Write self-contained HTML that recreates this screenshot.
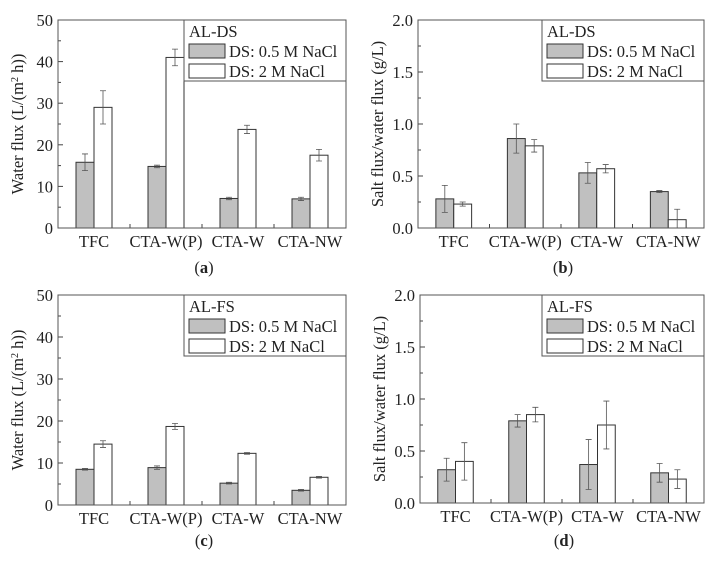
<!DOCTYPE html>
<html><head><meta charset="utf-8"><style>
body{margin:0;background:#fff;}
svg{display:block;font-family:"Liberation Serif",serif;}
</style></head><body>
<svg id="s" width="717" height="565" xmlns="http://www.w3.org/2000/svg"></svg>
<script>
const categories=["TFC","CTA-W(P)","CTA-W","CTA-NW"];
const aGray=[15.8,14.8,7.1,7.0], aGrayErr=[2,0.3,0.3,0.4];
const aWhite=[29,41,23.7,17.5], aWhiteErr=[4,2,1,1.4];
const bGray=[0.28,0.86,0.53,0.35], bGrayErr=[0.13,0.14,0.1,0.01];
const bWhite=[0.23,0.79,0.57,0.08], bWhiteErr=[0.02,0.06,0.04,0.1];
const cGray=[8.5,8.9,5.2,3.5], cGrayErr=[0.2,0.4,0.2,0.2];
const cWhite=[14.5,18.7,12.3,6.6], cWhiteErr=[0.8,0.7,0.2,0.2];
const dGray=[0.32,0.79,0.37,0.29], dGrayErr=[0.11,0.06,0.24,0.09];
const dWhite=[0.40,0.85,0.75,0.23], dWhiteErr=[0.18,0.07,0.23,0.09];
const fluxTicks=["0","10","20","30","40","50"];
const ratioTicks=["0.0","0.5","1.0","1.5","2.0"];
const NS="http://www.w3.org/2000/svg";
const FS=16.5;
const svg=document.getElementById('s');
function mk(t,a,p){const e=document.createElementNS(NS,t);for(const k in a)e.setAttribute(k,a[k]);(p||svg).appendChild(e);return e;}
function panel(id,x0,x1,y0,y1,ymax,ticks,gray,gErr,white,wErr,ytitle,legend,label){
  const g=mk('g',{});
  
  
  const ys=v=>y1-(v/ymax)*(y1-y0);
  const bw=(x1-x0)/4;
  const xs=i=>x0+bw*(i+0.5);
  const barW=bw*0.25;
  for(let i=0;i<4;i++){
    const c=xs(i);
    [[gray,gErr,'#c0c0c0',c-barW,'bar-gray-'],[white,wErr,'#fff',c,'bar-white-']].forEach(([v,e,f,bx,nm])=>{
      const r=mk('rect',{x:bx,y:ys(v[i]),width:barW,height:y1-ys(v[i]),fill:f,stroke:'#333','stroke-width':1},g);
      
      
      const mx=bx+barW/2, t=ys(v[i]+e[i]), b=ys(Math.max(0,v[i]-e[i]));
      const eb=mk('path',{d:`M${mx},${t}V${b}M${mx-3},${t}H${mx+3}M${mx-3},${b}H${mx+3}`,stroke:'#555','stroke-width':0.8,fill:'none'},g);
      
      
    });
    const tl=mk('text',{x:xs(i),y:y1+19,'font-size':FS,'text-anchor':'middle',fill:'#222'},g);
    tl.textContent=categories[i];
    
    
    if(i>0)mk('line',{x1:x0+bw*i,x2:x0+bw*i,y1:y1,y2:y1-4,stroke:'#444'},g);
  }
  ticks.forEach((t,k)=>{
    const y=y1-(k/(ticks.length-1))*(y1-y0);
    mk('line',{x1:x0,x2:x0+5,y1:y,y2:y,stroke:'#444'},g);
    if(k<ticks.length-1){const ym=(y+y1-((k+1)/(ticks.length-1))*(y1-y0))/2;mk('line',{x1:x0,x2:x0+3,y1:ym,y2:ym,stroke:'#444'},g);}
    const tx=mk('text',{x:x0-5,y:y+6,'font-size':FS,'text-anchor':'end',fill:'#222'},g);
    tx.textContent=t;
    
    
  });
  const fr=mk('rect',{x:x0,y:y0,width:x1-x0,height:y1-y0,fill:'none',stroke:'#555','stroke-width':1},g);
  
  
  const yt=mk('text',{x:0,y:0,'font-size':FS,'text-anchor':'middle',fill:'#222',transform:`translate(${x0-35},${(y0+y1)/2}) rotate(-90)`},g);
  yt.innerHTML=ytitle;
  
  
  const lx=x1-162, lg=mk('g',{},g);
  
  
  mk('rect',{x:lx,y:y0,width:162,height:61,fill:'#fff',stroke:'#555'},lg);
  const lt=mk('text',{x:lx+5,y:y0+17,'font-size':FS,fill:'#222'},lg);lt.textContent=legend;
  mk('rect',{x:lx+5,y:y0+24,width:36,height:14,fill:'#c0c0c0',stroke:'#333'},lg);
  mk('rect',{x:lx+5,y:y0+44,width:36,height:14,fill:'#fff',stroke:'#333'},lg);
  const l1=mk('text',{x:lx+45,y:y0+37,'font-size':FS,fill:'#222'},lg);l1.textContent='DS: 0.5 M NaCl';
  const l2=mk('text',{x:lx+45,y:y0+57,'font-size':FS,fill:'#222'},lg);l2.textContent='DS: 2 M NaCl';
  const pl=mk('text',{x:(x0+x1)/2+2,y:label[1],'font-size':FS,'text-anchor':'middle',fill:'#222'},g);
  pl.innerHTML='(<tspan font-weight="bold">'+label[0]+'</tspan>)';
  
  
}
const wt='Water flux (L/(m<tspan dy="-5" font-size="10">2</tspan><tspan dy="5"> h))</tspan>';
const st='Salt flux/water flux (g/L)';
panel('a',58,346,20,228,50,fluxTicks,aGray,aGrayErr,aWhite,aWhiteErr,wt,'AL-DS',['a',273]);
panel('b',418,704,20,228,2,ratioTicks,bGray,bGrayErr,bWhite,bWhiteErr,st,'AL-DS',['b',273]);
panel('c',58,346,295,505,50,fluxTicks,cGray,cGrayErr,cWhite,cWhiteErr,wt,'AL-FS',['c',546]);
panel('d',420,704,295,503,2,ratioTicks,dGray,dGrayErr,dWhite,dWhiteErr,st,'AL-FS',['d',546]);
</script>
</body></html>
